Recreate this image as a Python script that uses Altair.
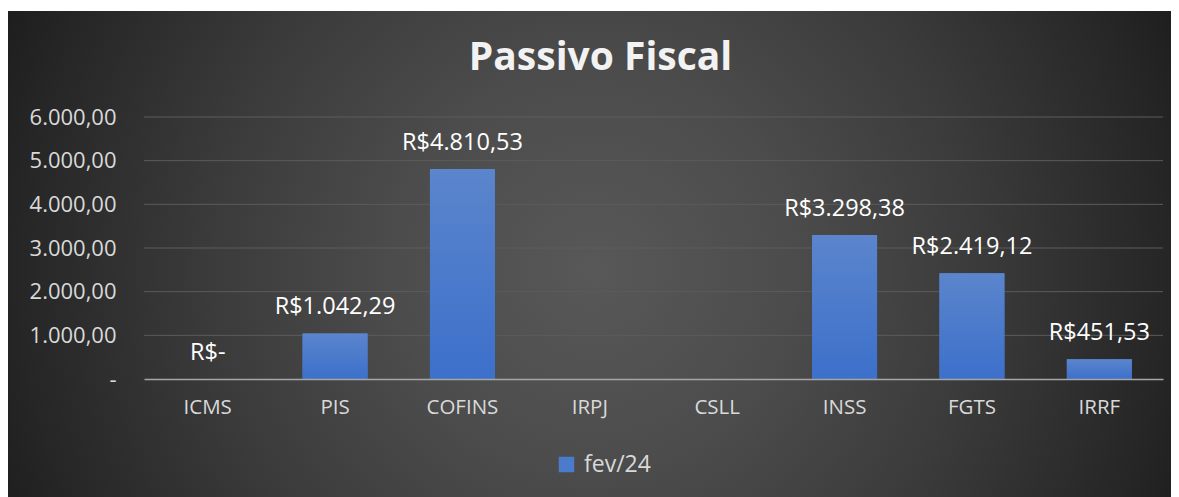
import altair as alt
import pandas as pd

categorias = ["ICMS", "PIS", "COFINS", "IRPJ", "CSLL", "INSS", "FGTS", "IRRF"]
valores = [0.0, 1042.29, 4810.53, None, None, 3298.38, 2419.12, 451.53]
serie = "fev/24"
y_ticks = [0, 1000, 2000, 3000, 4000, 5000, 6000]
titulo = "Passivo Fiscal"


def brl(v):
    if v is None:
        return None
    if v == 0:
        return "R$-"
    s = f"{v:,.2f}".replace(",", "_").replace(".", ",").replace("_", ".")
    return "R$" + s


df = pd.DataFrame({
    "tributo": categorias,
    "valor": valores,
    "rotulo": [brl(v) for v in valores],
    "serie": [serie] * len(categorias),
})
grid_df = pd.DataFrame({"valor": y_ticks[1:]})

W, H = 1019, 262
FONT = "Open Sans"

y_scale = alt.Scale(domain=[0, 6000], nice=False)

x_enc = alt.X(
    "tributo:N", sort=categorias,
    scale=alt.Scale(paddingInner=0.49, paddingOuter=0.245),
    axis=alt.Axis(title=None, labelAngle=0, labelFont=FONT, labelFontSize=20.5,
                  labelColor="#d9d9d9", labelPadding=18, ticks=False,
                  domainColor="#a6a6a6", domainWidth=1.5, grid=False, zindex=1),
)
y_axis = alt.Axis(
    title=None, values=y_ticks,
    labelExpr="datum.value == 0 ? '-' : replace(replace(replace(format(datum.value, ',.2f'), ',', '_'), '.', ','), '_', '.')",
    grid=False, domain=False, ticks=False, zindex=1,
    labelPadding=28, labelFont=FONT, labelFontSize=22, labelColor="#d9d9d9",
)
y_enc = alt.Y("valor:Q", scale=y_scale, axis=y_axis)

bg_data = alt.Chart(pd.DataFrame({"a": [0]}))
background = bg_data.mark_rect(
    fill=alt.Gradient(
        gradient="radial",
        stops=[
            alt.GradientStop(color="#585858", offset=0),
            alt.GradientStop(color="#4c4c4c", offset=0.31),
            alt.GradientStop(color="#3b3b3b", offset=0.6),
            alt.GradientStop(color="#262626", offset=0.9),
            alt.GradientStop(color="#1e1e1e", offset=1),
        ],
        x1=0.5, y1=0.5, x2=0.5, y2=0.5, r1=0, r2=0.49,
    )
).encode(x=alt.value(-201), x2=alt.value(1099), y=alt.value(-497), y2=alt.value(803))

strip = bg_data.mark_rect(fill="#ffffff").encode(
    x=alt.value(-140), x2=alt.value(1040), y=alt.value(-112), y2=alt.value(-106)
)

gridlines = alt.Chart(grid_df).mark_rule(color="#5c5c5c", strokeWidth=1).encode(
    y=y_enc,
    x=alt.value(0), x2=alt.value(W),
)

base = alt.Chart(df)

bars_legend = base.mark_bar().encode(
    x=x_enc, y=y_enc,
    color=alt.Color(
        "serie:N", scale=alt.Scale(range=["#4a7bcc"]),
        legend=alt.Legend(title=None, orient="none", legendX=411, legendY=336,
                          symbolType="square", symbolSize=240, symbolStrokeWidth=0,
                          labelFont=FONT, labelFontSize=23, labelColor="#d9d9d9",
                          labelOffset=6, zindex=1),
    ),
)

bars = base.mark_bar(
    fill=alt.Gradient(
        gradient="linear",
        stops=[alt.GradientStop(color="#5b85cc", offset=0),
               alt.GradientStop(color="#3c70cb", offset=1)],
        x1=0, x2=0, y1=0, y2=1,
    )
).encode(x=x_enc, y=y_enc)

labels = base.transform_filter("datum.rotulo != null").mark_text(
    font=FONT, fontSize=23.5, color="#ffffff", baseline="alphabetic", dy=-19
).encode(x=x_enc, y=y_enc, text="rotulo:N")

chart = alt.layer(background, strip, gridlines, bars_legend, bars, labels).properties(
    width=W, height=H,
    title=alt.TitleParams(titulo, font=FONT, fontSize=39, fontWeight="bold",
                          color="#f2f2f2", anchor="middle", frame="group",
                          dx=-53, dy=489, offset=0, baseline="alphabetic", zindex=1),
    autosize=alt.AutoSizeParams(type="none"),
    padding={"left": 136, "top": 109, "right": 8, "bottom": 118},
).configure(background="#ffffff").configure_view(stroke=None)

chart.save("out.html", embed_options={"renderer": "svg", "actions": False})
